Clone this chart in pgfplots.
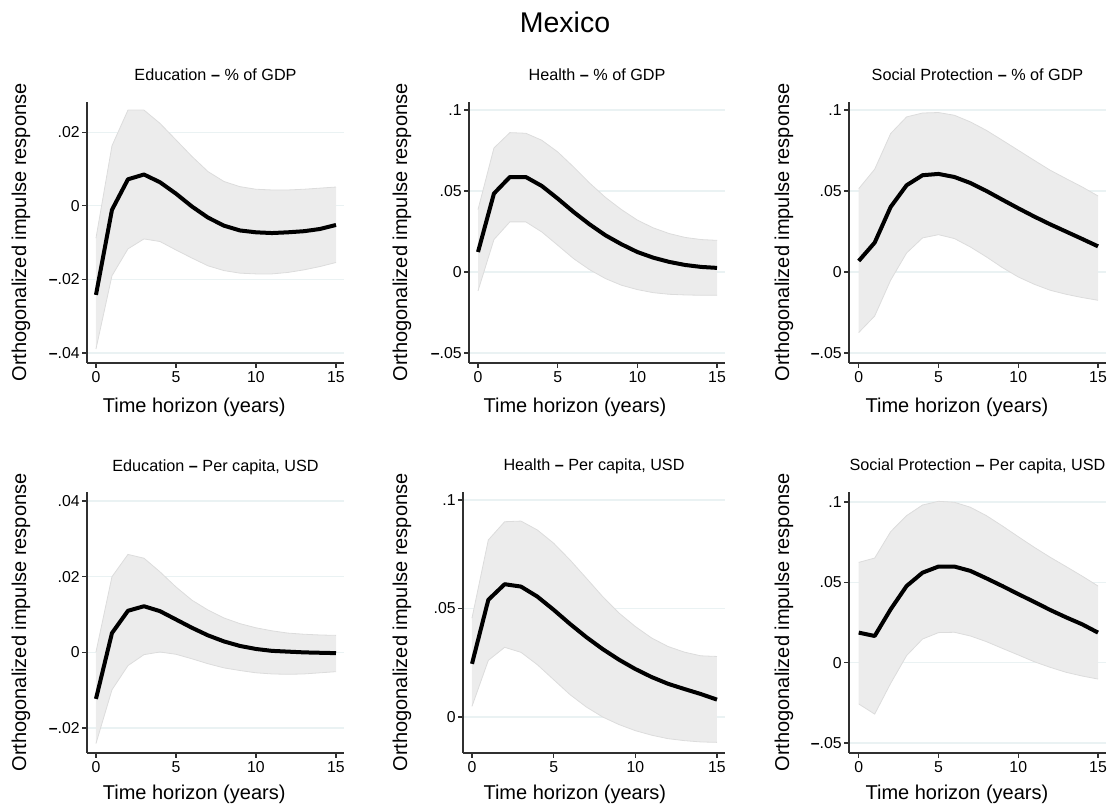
\documentclass[border=0pt]{standalone}
\usepackage{fontspec}
\setmainfont{Liberation Sans}
\usepackage{pgfplots}
\pgfplotsset{compat=1.18}
\usepackage{pgfplotstable}
\usepgfplotslibrary{fillbetween}
\definecolor{gridc}{HTML}{EAF2F3}
\definecolor{bandc}{HTML}{ECECEC}
\definecolor{bandedge}{HTML}{DCDCDC}
\definecolor{axc}{HTML}{303030}

% x irf lo hi
\pgfplotstableread{
x irf lo hi
0 -0.0242 -0.0389 -0.0088
1 -0.0011 -0.0190 0.0163
2 0.0072 -0.0117 0.0260
3 0.0085 -0.0090 0.0260
4 0.0064 -0.0097 0.0224
5 0.0033 -0.0120 0.0179
6 -0.0002 -0.0142 0.0134
7 -0.0032 -0.0163 0.0093
8 -0.0054 -0.0176 0.0066
9 -0.0067 -0.0183 0.0052
10 -0.0072 -0.0185 0.0045
11 -0.0074 -0.0185 0.0043
12 -0.0072 -0.0181 0.0043
13 -0.0069 -0.0174 0.0045
14 -0.0063 -0.0165 0.0048
15 -0.0052 -0.0154 0.0051
}\eduGDP
\pgfplotstableread{
x irf lo hi
0 0.0123 -0.0117 0.0385
1 0.0484 0.0200 0.0765
2 0.0586 0.0309 0.0860
3 0.0586 0.0309 0.0856
4 0.0531 0.0247 0.0813
5 0.0453 0.0165 0.0741
6 0.0370 0.0082 0.0648
7 0.0294 0.0014 0.0549
8 0.0226 -0.0041 0.0460
9 0.0171 -0.0082 0.0385
10 0.0123 -0.0109 0.0320
11 0.0088 -0.0128 0.0272
12 0.0062 -0.0138 0.0237
13 0.0043 -0.0142 0.0213
14 0.0031 -0.0144 0.0200
15 0.0025 -0.0144 0.0195
}\heaGDP
\pgfplotstableread{
x irf lo hi
0 0.0068 -0.0374 0.0514
1 0.0181 -0.0272 0.0634
2 0.0401 -0.0051 0.0854
3 0.0535 0.0117 0.0957
4 0.0597 0.0210 0.0981
5 0.0605 0.0230 0.0984
6 0.0586 0.0206 0.0967
7 0.0549 0.0154 0.0926
8 0.0500 0.0093 0.0874
9 0.0446 0.0027 0.0813
10 0.0393 -0.0031 0.0751
11 0.0342 -0.0076 0.0689
12 0.0294 -0.0113 0.0628
13 0.0249 -0.0138 0.0576
14 0.0204 -0.0158 0.0525
15 0.0158 -0.0175 0.0469
}\spGDP
\pgfplotstableread{
x irf lo hi
0 -0.0123 -0.0241 0.0001
1 0.0051 -0.0099 0.0200
2 0.0110 -0.0035 0.0259
3 0.0122 -0.0006 0.0249
4 0.0109 0.0001 0.0213
5 0.0087 -0.0005 0.0173
6 0.0065 -0.0017 0.0138
7 0.0045 -0.0030 0.0112
8 0.0029 -0.0041 0.0091
9 0.0017 -0.0048 0.0076
10 0.0009 -0.0054 0.0065
11 0.0004 -0.0057 0.0057
12 0.0002 -0.0058 0.0051
13 0.0000 -0.0057 0.0048
14 -0.0001 -0.0054 0.0046
15 -0.0002 -0.0051 0.0045
}\eduPC
\pgfplotstableread{
x irf lo hi
0 0.0245 0.0049 0.0456
1 0.0540 0.0261 0.0816
2 0.0612 0.0321 0.0900
3 0.0601 0.0298 0.0903
4 0.0555 0.0241 0.0862
5 0.0494 0.0172 0.0801
6 0.0429 0.0103 0.0724
7 0.0368 0.0046 0.0640
8 0.0313 0.0000 0.0555
9 0.0264 -0.0035 0.0479
10 0.0221 -0.0063 0.0417
11 0.0184 -0.0084 0.0364
12 0.0153 -0.0100 0.0325
13 0.0129 -0.0109 0.0299
14 0.0106 -0.0115 0.0282
15 0.0080 -0.0117 0.0279
}\heaPC
\pgfplotstableread{
x irf lo hi
0 0.0187 -0.0257 0.0624
1 0.0166 -0.0320 0.0651
2 0.0332 -0.0129 0.0815
3 0.0477 0.0044 0.0915
4 0.0560 0.0147 0.0981
5 0.0598 0.0187 0.1004
6 0.0598 0.0189 0.0998
7 0.0571 0.0166 0.0967
8 0.0525 0.0131 0.0915
9 0.0477 0.0089 0.0851
10 0.0427 0.0048 0.0784
11 0.0378 0.0006 0.0718
12 0.0328 -0.0029 0.0656
13 0.0282 -0.0060 0.0598
14 0.0239 -0.0083 0.0539
15 0.0187 -0.0102 0.0477
}\spPC

\newcommand{\dash}{\textbf{\textendash}}

\pgfplotsset{
 irf/.style={scale only axis, height=130.5pt, anchor=south west,
  axis lines=left,
  axis line style={-, axc, line width=0.6pt},
  every outer x axis line/.append style={-},
  every outer y axis line/.append style={-},
  tick align=outside, major tick length=2.5pt,
  tick style={axc, line width=0.6pt},
  scaled y ticks=false, scaled x ticks=false,
  xtick={0,5,10,15}, xticklabels={0,5,10,15},
  ymajorgrids, grid style={gridc, line width=0.6pt},
  ticklabel style={font=\fontsize{7.9}{9}\selectfont},
  yticklabel style={inner sep=1pt},
  xticklabel style={inner sep=1.5pt},
  xlabel={Time horizon (years)},
  ylabel={Orthogonalized impulse response},
  label style={font=\fontsize{10}{12}\selectfont},
  title style={font=\fontsize{8.1}{9.5}\selectfont, at={(axis description cs:0.5,1)}, anchor=base, yshift=4.5pt},
 },
 band/.style={draw=bandedge, line width=0.4pt},
 resp/.style={black, line width=2pt, line join=round},
}

\newcommand{\panel}[1]{%
 \addplot[draw=none, name path=hi, forget plot] table[x=x, y=hi] {#1};
 \addplot[draw=none, name path=lo, forget plot] table[x=x, y=lo] {#1};
 \addplot[fill=bandc, draw=none] fill between[of=hi and lo];
 \addplot[band] table[x=x, y=hi] {#1};
 \addplot[band] table[x=x, y=lo] {#1};
 \addplot[resp] table[x=x, y=irf] {#1};
}

\begin{document}
\begin{tikzpicture}
\node[anchor=base, font=\fontsize{14.25}{16}\selectfont] at (282.5pt,388pt) {Mexico};

% top row
\begin{axis}[irf, at={(43.5pt,223pt)}, width=128.5pt,
 xmin=-0.56, xmax=15.5, ymin=-0.0427, ymax=0.0282,
 ytick={-0.04,-0.02,0,0.02}, yticklabels={\dash.04,\dash.02,0,.02},
 title={Education \dash{} \% of GDP},
 ylabel style={at={(axis description cs:-0.257,0.5)}, anchor=center},
 xlabel style={at={(axis description cs:0.417,0)}, anchor=base, yshift=-25pt}]
\panel{\eduGDP}
\end{axis}

\begin{axis}[irf, at={(234.5pt,223pt)}, width=128pt,
 xmin=-0.565, xmax=15.5, ymin=-0.0562, ymax=0.1049,
 ytick={-0.05,0,0.05,0.1}, yticklabels={\dash.05,0,.05,.1},
 title={Health \dash{} \% of GDP},
 ylabel style={at={(axis description cs:-0.262,0.5)}, anchor=center},
 xlabel style={at={(axis description cs:0.414,0)}, anchor=base, yshift=-25pt}]
\panel{\heaGDP}
\end{axis}

\begin{axis}[irf, at={(424.5pt,223pt)}, width=128.5pt,
 xmin=-0.61, xmax=15.5, ymin=-0.0562, ymax=0.1049,
 ytick={-0.05,0,0.05,0.1}, yticklabels={\dash.05,0,.05,.1},
 title={Social Protection \dash{} \% of GDP},
 ylabel style={at={(axis description cs:-0.253,0.5)}, anchor=center},
 xlabel style={at={(axis description cs:0.42,0)}, anchor=base, yshift=-25pt}]
\panel{\spGDP}
\end{axis}

% bottom row
\begin{axis}[irf, at={(43.5pt,28pt)}, width=128.5pt,
 xmin=-0.56, xmax=15.5, ymin=-0.0266, ymax=0.0424,
 ytick={-0.02,0,0.02,0.04}, yticklabels={\dash.02,0,.02,.04},
 title={Education \dash{} Per capita, USD},
 ylabel style={at={(axis description cs:-0.257,0.5)}, anchor=center},
 xlabel style={at={(axis description cs:0.417,0)}, anchor=base, yshift=-23.5pt}]
\panel{\eduPC}
\end{axis}

\begin{axis}[irf, at={(231.5pt,28pt)}, width=131pt,
 xmin=-0.55, xmax=15.49, ymin=-0.0166, ymax=0.1037,
 ytick={0,0.05,0.1}, yticklabels={0,.05,.1},
 title={Health \dash{} Per capita, USD},
 ylabel style={at={(axis description cs:-0.233,0.5)}, anchor=center},
 xlabel style={at={(axis description cs:0.427,0)}, anchor=base, yshift=-23.5pt}]
\panel{\heaPC}
\end{axis}

\begin{axis}[irf, at={(424.5pt,28pt)}, width=128.5pt,
 xmin=-0.61, xmax=15.5, ymin=-0.0562, ymax=0.1062,
 ytick={-0.05,0,0.05,0.1}, yticklabels={\dash.05,0,.05,.1},
 title={Social Protection \dash{} Per capita, USD},
 ylabel style={at={(axis description cs:-0.253,0.5)}, anchor=center},
 xlabel style={at={(axis description cs:0.42,0)}, anchor=base, yshift=-23.5pt}]
\panel{\spPC}
\end{axis}
\pgfresetboundingbox
\useasboundingbox (0,0) rectangle (555pt,404.5pt);
\end{tikzpicture}
\end{document}
